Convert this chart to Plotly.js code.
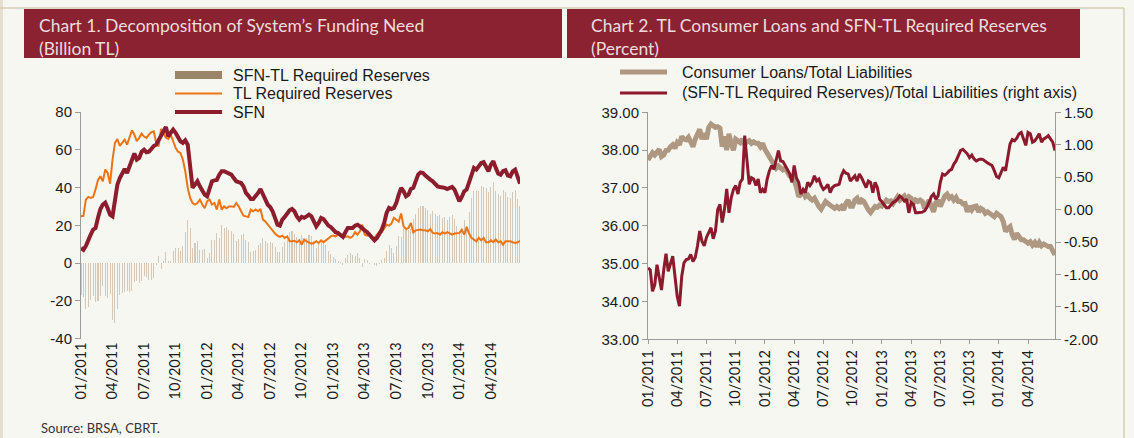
<!DOCTYPE html>
<html>
<head>
<meta charset="utf-8">
<script src="https://cdn.plot.ly/plotly-3.0.1.min.js"></script>
<style>
html,body{margin:0;padding:0;background:#f7f7f2;}
#chart{width:1134px;height:438px;}
</style>
</head>
<body>
<div id="chart"></div>
<script>
// ---------- DATA (weekly, first week 2011-01-07) ----------
const firstWeek = '2011-01-07';

const sfn = [8,7,9,11.5,15,17.7,18.5,24,28.6,31,32,29,25.6,24.7,31.8,41.5,45,47.7,49.8,47.7,
51,55.7,58,54.8,55.7,59,60,58.7,59,60.4,
62,62.7,65.4,68,69.8,72,67,69,70.7,69,
67,64.5,63.6,65,62.7,53,39.8,41.5,43.3,40.6,
38,36.2,35.3,38.9,43.3,43.8,44,46.8,48.6,48.6,
48,47.7,46.8,45,43.3,42.8,42.4,40.6,37.1,35.7,
33.9,33.9,35.3,37.1,39.2,36.2,33.6,30.9,29.7,27.4,
23.9,20.3,19.8,23,24.4,26.2,27.9,28.6,27.4,24.7,
23,24.4,23.9,24.7,25.6,24.7,22,19.4,21.2,23.9,
23.3,21.6,19.8,19,17.7,16.3,15.9,15,13.8,16.3,
18.6,18.6,18.6,19.8,20.3,19.4,18,17.3,16.3,15,
13.3,12,13.3,15.6,17.7,21.2,26.5,29.2,28.6,29.2,
31.8,36.2,39.8,38,35.3,36.2,39.2,39.8,43.3,46.8,
48,47.7,46.3,45,44.2,43.3,41.5,40.6,40.3,40.3,
39.8,39.2,39.8,40.3,38.9,35,32.7,35,38,38.9,
42.8,47.7,50.4,49.5,51.2,53,53.4,50.9,48.6,52.1,
53.9,50.4,47.4,46.8,48.6,49.1,46.3,45.9,48.6,49.5,
45,42];

const tlRequiredReserves = [24.7,25,33.6,35,34.5,35,39,44,46,43.3,49.5,47.7,42,54.8,63.6,65.7,62,63.6,65.4,62.7,
66.3,70.3,68,64.5,66.3,68.6,67,66.3,68,69.3,
69.8,63.6,61.8,71,69,66.3,65.7,68,64.5,61,
59,58.3,54.8,48.6,39.8,34.5,31.8,31,31.8,33.6,
31,29,32.7,33.6,31,31.8,28.3,33.6,28.3,30,
29,30,30,29.7,31.8,30,27.4,25.1,24.7,24.4,
28.3,27.4,28.3,27.4,28.6,23,22,20.3,18.6,16.8,
15.6,14.5,13.8,14.5,13.3,14.1,11.5,11.5,11.8,11,
12,9.7,12.4,11.5,11,10.2,10.6,11.5,10.6,12,
11,12,13.3,14.1,14.5,14.1,15,14.5,15,13.8,
14.1,13.3,14.1,16.3,15,16.8,20.3,15,14.5,15.6,
13.3,13.3,15,16.3,16.3,18.6,20.3,19.8,20.9,23.9,
23,22,26.2,19.4,18,18.6,21.2,16.3,17.3,17.7,
17.7,17.3,17.3,16.8,18,15.9,15.6,15.9,15,16.3,
15.6,16.3,15.6,15,15.6,15.6,15.9,17.7,15,19.1,
15.6,13.3,12.4,11.5,13.3,12,13.3,11,11,12,
11,12.4,11,11.5,9.7,11.5,11.5,11.5,11,10.6,
11,11.8];

const sfnTlRequiredReserves = [-16.7,-18,-24.6,-23.5,-19.5,-17.3,-20.5,-20,-17.4,-12.3,-17.5,-18.7,-16.4,-30.1,-31.8,-24.2,-17,-15.9,-15.6,-15,
-15.3,-14.6,-10,-9.7,-10.6,-9.6,-7,-7.6,-9,-8.9,
-7.8,-0.9,3.6,-3,0.8,5.7,1.3,1,6.2,8,
8,6.2,8.8,16.4,22.9,18.5,8,10.5,11.5,7,
7,7.2,2.6,5.3,12.3,12,15.7,13.2,20.3,18.6,
19,17.7,16.8,15.3,11.5,12.8,15,15.5,12.4,11.3,
5.6,6.5,7,9.7,10.6,13.2,11.6,10.6,11.1,10.6,
8.3,5.8,6,8.5,11.1,12.1,16.4,17.1,15.6,13.7,
11,14.7,11.5,13.2,14.6,14.5,11.4,7.9,10.6,11.9,
12.3,9.6,6.5,4.9,3.2,2.2,0.9,0.5,-1.2,2.5,
4.5,5.3,4.5,3.5,5.3,2.6,-2.3,2.3,1.8,-0.6,
0,-1.3,-1.7,-0.7,1.4,2.6,6.2,9.4,7.7,5.3,
8.8,14.2,13.6,18.6,17.3,17.6,18,23.5,26,29.1,
30.3,30.4,29,28.2,26.2,27.4,25.9,24.7,25.3,24,
24.2,22.9,24.2,25.3,23.3,19.4,16.8,17.3,23,19.8,
27.2,34.4,38,38,37.9,41,40.1,39.9,37.6,40.1,
42.9,38,36.4,35.3,38.9,37.6,34.8,34.4,37.6,38.9,
34,30.2];

const consumerLoansRatio = [37.74,37.83,37.93,37.87,37.96,38.02,37.83,37.87,37.99,38.0,38.09,38.14,38.05,38.2,38.14,38.36,38.29,38.27,38.34,38.2,
38.09,38.29,38.4,38.55,38.29,38.44,38.29,38.6,38.69,38.62,
38.6,38.62,38.58,38.09,38.36,38.0,38.43,38.18,38.0,38.29,
38.22,38.2,38.29,38.16,38.22,38.25,38.18,38.22,38.18,38.18,
38.09,38.18,38.02,37.92,37.76,37.7,37.61,37.52,37.58,37.52,
37.48,37.52,37.43,37.32,37.3,37.21,37.02,36.77,36.84,36.9,
36.77,36.81,36.73,36.68,36.73,36.59,36.51,36.44,36.55,36.64,
36.59,36.55,36.51,36.46,36.51,36.46,36.51,36.42,36.59,36.68,
36.52,36.52,36.68,36.73,36.59,36.68,36.64,36.51,36.42,36.35,
36.46,36.51,36.49,36.55,36.52,36.59,36.68,36.64,36.66,36.59,
36.68,36.77,36.68,36.73,36.79,36.68,36.77,36.73,36.59,36.68,
36.64,36.68,36.64,36.46,36.55,36.68,36.51,36.37,36.61,36.68,
36.51,36.68,36.79,36.84,36.73,36.77,36.68,36.75,36.64,36.64,
36.58,36.59,36.37,36.52,36.42,36.51,36.52,36.37,36.46,36.42,
36.33,36.37,36.33,36.29,36.24,36.33,36.29,36.24,36.11,35.85,
35.93,35.98,35.76,35.64,35.8,35.71,35.63,35.63,35.58,35.54,
35.58,35.49,35.56,35.45,35.56,35.47,35.52,35.47,35.45,35.45,
35.36,35.23];

const sfnTlReservesRatio = [-0.9,-0.93,-1.26,-1.16,-0.85,-1.08,-1.24,-0.93,-0.68,-0.95,-0.82,-0.72,-1.03,-1.34,-1.49,-1.03,-0.82,-0.77,-0.76,-0.69,
-0.8,-0.74,-0.56,-0.33,-0.49,-0.56,-0.43,-0.36,-0.28,-0.45,
-0.33,0.0,0.08,-0.2,0.0,0.32,-0.05,0.18,0.31,0.37,
0.24,0.42,0.47,1.14,0.73,0.39,0.49,0.47,0.37,0.47,
0.26,0.31,0.26,0.47,0.6,0.68,0.62,0.75,0.91,0.75,
0.74,0.68,0.62,0.55,0.42,0.68,0.49,0.42,0.24,0.31,
0.26,0.42,0.37,0.42,0.52,0.44,0.47,0.37,0.31,0.34,
0.39,0.26,0.34,0.37,0.38,0.39,0.52,0.6,0.56,0.55,
0.44,0.49,0.52,0.44,0.55,0.49,0.42,0.34,0.44,0.42,
0.26,0.42,0.34,0.16,0.12,0.07,0.03,0.03,0.07,0.11,
0.13,0.16,0.21,0.18,0.13,0.16,-0.05,0.11,0.08,-0.05,
-0.05,-0.05,-0.04,-0.02,0.03,0.11,0.2,0.24,0.16,0.21,
0.42,0.55,0.53,0.56,0.6,0.62,0.7,0.75,0.83,0.91,
0.93,0.89,0.86,0.8,0.84,0.78,0.75,0.77,0.78,0.77,
0.74,0.72,0.7,0.68,0.6,0.51,0.49,0.56,0.65,0.6,
0.78,1.01,1.08,1.06,1.1,1.17,1.19,1.09,0.99,1.19,
1.17,1.04,1.06,1.11,1.17,1.04,1.09,1.11,1.14,1.09,
1.04,0.91];

const chart1Names = ['SFN-TL Required Reserves', 'TL Required Reserves', 'SFN'];
const chart2Names = ['Consumer Loans/Total Liabilities', '(SFN-TL Required Reserves)/Total Liabilities (right axis)'];
const chartTitles = ['Chart 1. Decomposition of System\u2019s Funding Need<br>(Billion TL)',
                     'Chart 2. TL Consumer Loans and SFN-TL Required Reserves<br>(Percent)'];
const sourceText = 'Source: BRSA, CBRT.';

const leftTickVals = [-40, -20, 0, 20, 40, 60, 80];
const leftTickText = ['-40', '-20', '0', '20', '40', '60', '80'];
const pctTickVals = [33, 34, 35, 36, 37, 38, 39];
const pctTickText = ['33.00', '34.00', '35.00', '36.00', '37.00', '38.00', '39.00'];
const ratioTickVals = [-2, -1.5, -1, -0.5, 0, 0.5, 1, 1.5];
const ratioTickText = ['-2.00', '-1.50', '-1.00', '-0.50', '0.00', '0.50', '1.00', '1.50'];

// ---------- helpers ----------
const DAY = 86400000;
const weeks = sfn.map((_, i) => new Date(Date.parse(firstWeek) + i * 7 * DAY).toISOString().slice(0, 10));
const xRange = [weeks[0], weeks[weeks.length - 1]];
const W = 1134, H = 438;
const px = v => v / W;
const py = v => 1 - v / H;

const C = {
  bg: '#f7f7f2', header: '#8a2232', headerText: '#eddcdc', axis: '#9b9b9b',
  bar: '#9b8569', barFill: 'rgba(155,133,105,0.40)', orange: '#ec7414', sfn: '#8c1d2d',
  tan: '#ae9882', ratio: '#8c1a2c', text: '#1b1b1b'
};
const numFont = {family: 'Liberation Sans, Arial, sans-serif', size: 15, color: C.text};
const dateFont = {family: 'Lato, sans-serif', size: 14.5, color: C.text};
const legendFont = {family: 'Liberation Sans, Arial, sans-serif', size: 16, color: C.text};
const titleFont = {family: 'Lato, sans-serif', size: 17.5, color: C.headerText};

const qDtick = 13 * 7 * DAY;

// left chart geometry
const y1Dom = [py(338.5), py(112)];
const zeroPos = y1Dom[0] + (y1Dom[1] - y1Dom[0]) * (0 - leftTickVals[0]) / (leftTickVals[leftTickVals.length - 1] - leftTickVals[0]);

const baseY = {
  showgrid: false, zeroline: false, showline: true, linecolor: C.axis, linewidth: 1,
  ticks: 'outside', ticklen: 5, tickcolor: C.axis, tickfont: numFont, automargin: false, fixedrange: true
};
const baseX = {
  type: 'date', range: xRange, tick0: weeks[0], dtick: qDtick, tickformat: '%m/%Y',
  showgrid: false, zeroline: false, automargin: false, fixedrange: true, tickfont: dateFont, tickangle: -90
};

const traces = [
  {type: 'bar', name: chart1Names[0], x: weeks, y: sfnTlRequiredReserves, xaxis: 'x', yaxis: 'y',
   width: 3 * DAY, marker: {color: C.barFill, line: {width: 0}}, showlegend: false},
  {type: 'scatter', mode: 'lines', name: chart1Names[1], x: weeks, y: tlRequiredReserves, xaxis: 'x', yaxis: 'y',
   line: {color: C.orange, width: 2}, showlegend: false},
  {type: 'scatter', mode: 'lines', name: chart1Names[2], x: weeks, y: sfn, xaxis: 'x', yaxis: 'y',
   line: {color: C.sfn, width: 4}, showlegend: false},
  {type: 'scatter', mode: 'lines', name: chart2Names[0], x: weeks, y: consumerLoansRatio, xaxis: 'x2', yaxis: 'y3',
   line: {color: C.tan, width: 5}, showlegend: false},
  {type: 'scatter', mode: 'lines', name: chart2Names[1], x: weeks, y: sfnTlReservesRatio, xaxis: 'x2', yaxis: 'y4',
   line: {color: C.ratio, width: 3}, showlegend: false}
];

// legend (drawn from the trace styles)
function legendShapes(x0, x1, ys, kinds) {
  return kinds.map((k, i) => k.type === 'rect'
    ? {type: 'rect', xref: 'paper', yref: 'paper', x0: px(x0), x1: px(x1), y0: py(ys[i] + 4), y1: py(ys[i] - 4),
       fillcolor: k.color, line: {width: 0}}
    : {type: 'line', xref: 'paper', yref: 'paper', x0: px(x0), x1: px(x1), y0: py(ys[i]), y1: py(ys[i]),
       line: {color: k.color, width: k.width}});
}
function legendTexts(x, ys, names) {
  return names.map((n, i) => ({text: n, xref: 'paper', yref: 'paper', x: px(x), y: py(ys[i]),
    xanchor: 'left', yanchor: 'middle', showarrow: false, font: legendFont}));
}
const leg1Y = [75, 93.5, 112];
const leg2Y = [72, 93];

const shapes = [
  // outer frame
  {type: 'rect', xref: 'paper', yref: 'paper', x0: 0, x1: px(3), y0: 0, y1: 1, fillcolor: '#e4dfcf', line: {width: 0}, layer: 'below'},
  {type: 'line', xref: 'paper', yref: 'paper', x0: 0, x1: px(1124), y0: py(8), y1: py(8), line: {color: '#d6ceb8', width: 1.5}, layer: 'below'},
  {type: 'line', xref: 'paper', yref: 'paper', x0: px(1124), x1: px(1124), y0: 0, y1: py(8), line: {color: '#d6ceb8', width: 1.5}, layer: 'below'},
  // headers
  {type: 'rect', xref: 'paper', yref: 'paper', x0: px(24), x1: px(562), y0: py(58), y1: py(9), fillcolor: C.header, line: {width: 0}, layer: 'below'},
  {type: 'rect', xref: 'paper', yref: 'paper', x0: px(567), x1: px(1080), y0: py(58), y1: py(9), fillcolor: C.header, line: {width: 0}, layer: 'below'},
  ...legendShapes(175, 222, leg1Y, [{type: 'rect', color: C.bar}, {type: 'line', color: C.orange, width: 2}, {type: 'line', color: C.sfn, width: 4}]),
  ...legendShapes(620, 667, leg2Y, [{type: 'line', color: C.tan, width: 5}, {type: 'line', color: C.ratio, width: 3}])
];

const annotations = [
  {text: chartTitles[0], xref: 'paper', yref: 'paper', x: px(37), y: py(37), xanchor: 'left', yanchor: 'middle',
   align: 'left', showarrow: false, font: titleFont},
  {text: chartTitles[1], xref: 'paper', yref: 'paper', x: px(589), y: py(37), xanchor: 'left', yanchor: 'middle',
   align: 'left', showarrow: false, font: titleFont},
  {text: sourceText, xref: 'paper', yref: 'paper', x: px(39), y: py(428), xanchor: 'left', yanchor: 'middle',
   showarrow: false, font: {family: 'Lato, sans-serif', size: 13, color: '#333'}},
  ...legendTexts(231, leg1Y, chart1Names),
  ...legendTexts(680, leg2Y, chart2Names)
];

const layout = {
  width: W, height: H,
  margin: {l: 0, r: 0, t: 0, b: 0, pad: 0},
  paper_bgcolor: C.bg, plot_bgcolor: 'rgba(0,0,0,0)',
  showlegend: false, hovermode: false, bargap: 0,
  xaxis: Object.assign({}, baseX, {domain: [px(81), px(520)], anchor: 'y', showline: false, ticks: ''}),
  xaxis3: Object.assign({}, baseX, {overlaying: 'x', anchor: 'free', position: zeroPos, showticklabels: false,
    showline: true, linecolor: C.axis, ticks: 'outside', ticklen: 4, tickcolor: C.axis}),
  yaxis: Object.assign({}, baseY, {domain: y1Dom, anchor: 'x', range: [leftTickVals[0], leftTickVals[6]],
    tickmode: 'array', tickvals: leftTickVals, ticktext: leftTickText}),
  yaxis2: Object.assign({}, baseY, {overlaying: 'y', side: 'right', anchor: 'x', range: [leftTickVals[0], leftTickVals[6]],
    tickmode: 'array', tickvals: leftTickVals, ticktext: leftTickText}),
  xaxis2: Object.assign({}, baseX, {domain: [px(648), px(1055)], anchor: 'y3', showline: true, linecolor: C.axis,
    ticks: 'outside', ticklen: 4, tickcolor: C.axis}),
  yaxis3: Object.assign({}, baseY, {domain: [py(339.3), py(112.3)], anchor: 'x2', range: [33, 39],
    tickmode: 'array', tickvals: pctTickVals, ticktext: pctTickText}),
  yaxis4: Object.assign({}, baseY, {overlaying: 'y3', side: 'right', anchor: 'x2', range: [-2, 1.5],
    tickmode: 'array', tickvals: ratioTickVals, ticktext: ratioTickText}),
  shapes: shapes,
  annotations: annotations
};

Plotly.newPlot('chart', traces, layout, {staticPlot: true, displayModeBar: false});
</script>
</body>
</html>
